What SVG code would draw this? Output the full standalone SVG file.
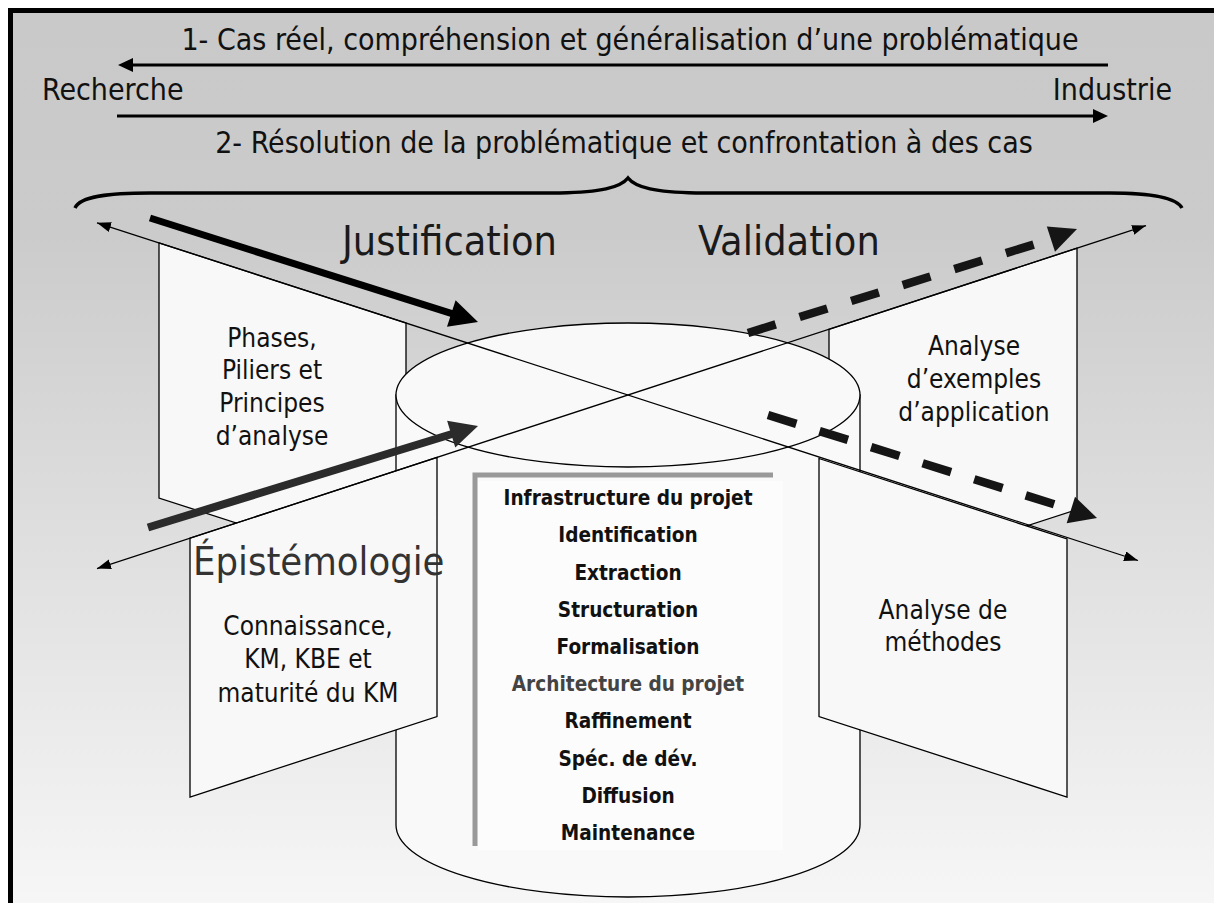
<svg xmlns="http://www.w3.org/2000/svg" width="1214" height="903" viewBox="0 0 1214 903">
  <defs>
    <linearGradient id="bg" x1="0" y1="0" x2="0" y2="1">
      <stop offset="0" stop-color="#c9c9c9"/>
      <stop offset="0.22" stop-color="#cbcbcb"/>
      <stop offset="1" stop-color="#fdfdfd"/>
    </linearGradient>
    <marker id="tip" markerUnits="userSpaceOnUse" markerWidth="15" markerHeight="11" refX="14" refY="5" orient="auto-start-reverse">
      <path d="M0,0 L14,5 L0,10 Z" fill="#000"/>
    </marker>
    <style>
      .t { font-family: "DejaVu Sans Condensed", "DejaVu Sans", sans-serif; fill: #111; }
      .head { font-size: 30px; }
      .big { font-size: 41px; fill: #1a1a1a; }
      .pan { font-size: 26px; text-anchor: middle; }
      .lst { font-size: 20.6px; font-weight: bold; text-anchor: middle; fill: #111; }
      .panel { fill: #f8f8f8; stroke: #000; stroke-width: 1.3; }
      .thin { stroke: #000; stroke-width: 1.3; fill: none; }
      .dash { stroke: #151515; stroke-width: 8.5; fill: none; }
    </style>
  </defs>

  <!-- page and frame -->
  <rect x="0" y="0" width="1214" height="903" fill="#fff"/>
  <rect x="10.5" y="10.5" width="1300" height="1000" fill="url(#bg)" stroke="#000" stroke-width="5"/>

  <!-- top flow between research and industry -->
  <g id="flow">
    <text class="t head" x="630" y="50" text-anchor="middle">1- Cas réel, compréhension et généralisation d’une problématique</text>
    <text class="t head" x="42" y="100">Recherche</text>
    <text class="t head" x="1172" y="100" text-anchor="end">Industrie</text>
    <text class="t head" x="624" y="153" text-anchor="middle">2- Résolution de la problématique et confrontation à des cas</text>
    <line x1="131" y1="65" x2="1108" y2="65" stroke="#000" stroke-width="3"/>
    <path d="M118,65 L133,58 L133,72 Z" fill="#000"/>
    <line x1="117" y1="116" x2="1094" y2="116" stroke="#000" stroke-width="3"/>
    <path d="M1108,116 L1093,109 L1093,123 Z" fill="#000"/>
    <!-- curly brace -->
    <path d="M75,208 C80,196 110,193 150,193 L560,193 C600,192 620,188 628,178 C636,188 656,192 696,193 L1110,193 C1150,193 1176,197 1182,208" fill="none" stroke="#000" stroke-width="3.5"/>
  </g>

  <!-- rear panels -->
  <g id="panel-phases">
    <polygon class="panel" points="159,242.8 406,323 406,578 159,498"/>
    <text class="t pan" x="272" y="347">Phases,</text>
    <text class="t pan" x="272" y="379">Piliers et</text>
    <text class="t pan" x="272" y="412">Principes</text>
    <text class="t pan" x="272" y="445">d’analyse</text>
  </g>
  <g id="panel-exemples">
    <polygon class="panel" points="829,329.3 1077,248.2 1077,509.5 829,590.5"/>
    <text class="t pan" x="974" y="355">Analyse</text>
    <text class="t pan" x="974" y="388">d’exemples</text>
    <text class="t pan" x="974" y="421">d’application</text>
  </g>

  <!-- central cylinder with the project phases -->
  <g id="cylinder">
    <path d="M396,395 L396,825 A232,72 0 0 0 860,825 L860,395 Z" fill="#f9f9f9" stroke="#000" stroke-width="1.3"/>
    <ellipse cx="628" cy="395" rx="232" ry="72" fill="#f9f9f9" stroke="#000" stroke-width="1.3"/>
    <rect x="478" y="481" width="305" height="369" fill="#fcfcfc"/>
    <path d="M475,846 V475 H773" fill="none" stroke="#999" stroke-width="5"/>
    <text class="t lst" x="628" y="505">Infrastructure du projet</text>
    <text class="t lst" x="628" y="542">Identification</text>
    <text class="t lst" x="628" y="580">Extraction</text>
    <text class="t lst" x="628" y="617">Structuration</text>
    <text class="t lst" x="628" y="654">Formalisation</text>
    <text class="t lst" x="628" y="691" style="fill:#444">Architecture du projet</text>
    <text class="t lst" x="628" y="728">Raffinement</text>
    <text class="t lst" x="628" y="766">Spéc. de dév.</text>
    <text class="t lst" x="628" y="803">Diffusion</text>
    <text class="t lst" x="628" y="840">Maintenance</text>
  </g>

  <!-- front panels -->
  <g id="panel-connaissance">
    <polygon class="panel" points="190,538.2 437,457.5 437,716.5 190,797"/>
    <text class="t pan" x="308" y="635">Connaissance,</text>
    <text class="t pan" x="308" y="668">KM, KBE et</text>
    <text class="t pan" x="308" y="702">maturité du KM</text>
  </g>
  <g id="panel-methodes">
    <polygon class="panel" points="819,458.5 1067,539 1067,797 819,716.5"/>
    <text class="t pan" x="943" y="619">Analyse de</text>
    <text class="t pan" x="943" y="651">méthodes</text>
  </g>

  <!-- connectors -->
  <g id="connectors">
    <line class="thin" x1="97" y1="222.8" x2="1138" y2="560.5" marker-start="url(#tip)" marker-end="url(#tip)"/>
    <line class="thin" x1="97" y1="568.6" x2="1146" y2="225.6" marker-start="url(#tip)" marker-end="url(#tip)"/>

    <!-- justification arrow -->
    <line x1="150" y1="218" x2="452" y2="313.7" stroke="#000" stroke-width="7"/>
    <polygon points="478,322 447,326.8 455.6,300.2" fill="#000"/>

    <!-- epistemology arrow -->
    <line x1="148" y1="527.5" x2="452" y2="434" stroke="#2b2b2b" stroke-width="8"/>
    <polygon points="478,426 455.3,447.6 447.1,420.8" fill="#2b2b2b"/>

    <!-- validation arrows -->
    <line class="dash" x1="748" y1="333" x2="1051" y2="239.2" stroke-dasharray="29 25"/>
    <polygon points="1077,229 1046.8,226.6 1055,251.8" fill="#151515"/>
    <line class="dash" x1="768" y1="415" x2="1071" y2="509.5" stroke-dasharray="29.7 24.3"/>
    <polygon points="1097,518 1075,496.7 1066.7,523.3" fill="#151515"/>
  </g>

  <!-- axis labels -->
  <g id="labels">
    <text class="t big" x="342" y="255">Justification</text>
    <text class="t big" x="698" y="255">Validation</text>
    <text class="t big" x="193" y="575" style="font-size:39.5px;fill:#333">Épistémologie</text>
  </g>
</svg>
